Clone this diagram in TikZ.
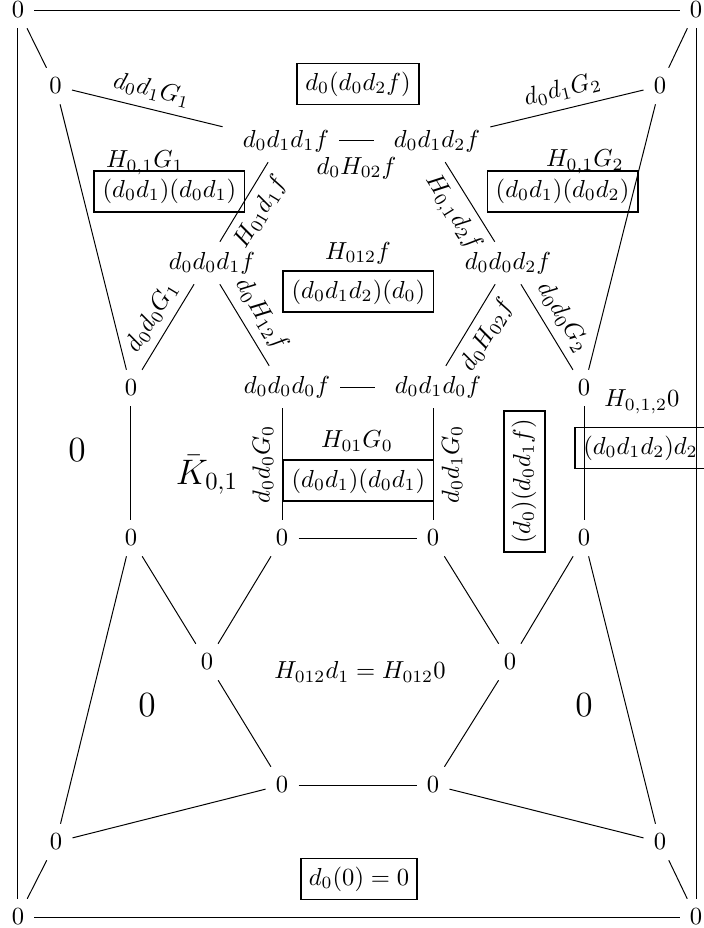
\documentclass[tikz,border=0pt]{standalone}
\begin{document}
\begin{tikzpicture}[zero/.style={inner sep=4pt}, cell/.style={draw, thick}, big/.style={font=\Large}]
\useasboundingbox (0,0) rectangle (10.043,-13.257);
% corners
\node[zero] (tl) at (0.257,-0.143) {$0$};
\node[zero] (tr) at (9.943,-0.143) {$0$};
\node[zero] (bl) at (0.257,-13.1) {$0$};
\node[zero] (br) at (9.943,-13.1) {$0$};
% outer ring of zeros
\node[zero] (lo1) at (0.793,-1.229) {$0$};
\node[zero] (ro1) at (9.429,-1.229) {$0$};
\node[zero] (lo2) at (1.871,-5.543) {$0$};
\node[zero] (ro2) at (8.343,-5.543) {$0$};
\node[zero] (lo3) at (1.871,-7.686) {$0$};
\node[zero] (ro3) at (8.343,-7.686) {$0$};
\node[zero] (lo5) at (0.8,-12.029) {$0$};
\node[zero] (ro5) at (9.429,-12.029) {$0$};
% hexagon
\node[zero] (a) at (4.014,-2.014) {\hspace{4pt}$d_0d_1d_1f$};
\node[zero] (b) at (6.171,-2.014) {\hspace{4pt}$d_0d_1d_2f$};
\node[zero] (c) at (2.957,-3.757) {\hspace{4pt}$d_0d_0d_1f$};
\node[zero] (e) at (7.257,-3.757) {$d_0d_0d_2f$};
\node[zero] (g) at (4.029,-5.529) {\hspace{4pt}$d_0d_0d_0f$};
\node[zero] (h) at (6.186,-5.529) {\hspace{4pt}$d_0d_1d_0f$};
% lower hexagon
\node[zero] (m1) at (4.029,-7.686) {$0$};
\node[zero] (m2) at (6.186,-7.686) {$0$};
\node[zero] (lo4) at (2.957,-9.457) {$0$};
\node[zero] (ro4) at (7.286,-9.457) {$0$};
\node[zero] (n1) at (4.029,-11.214) {$0$};
\node[zero] (n2) at (6.186,-11.214) {$0$};
% faces
\node[cell] (bx1) at (5.114,-1.2) {$d_0(d_0d_2f)$};
\node (t1) at (2.071,-2.329) {$H_{0,1}G_1$};
\node[cell] (bx2) at (2.421,-2.729) {$(d_0d_1)(d_0d_1)$};
\node (t2) at (8.357,-2.314) {$H_{0,1}G_2$};
\node[cell] (bx3) at (8.036,-2.729) {$(d_0d_1)(d_0d_2)$};
\node (t3) at (5.114,-3.614) {$H_{012}f$};
\node[cell] (bx4) at (5.121,-4.171) {$(d_0d_1d_2)(d_0)$};
\node[big] (z1) at (1.1,-6.429) {$0$};
\node[big] (kb) at (2.957,-6.786) {$\bar{K}_{0,1}$};
\node (t4) at (5.1,-6.3) {$H_{01}G_0$};
\node[cell] (bx5) at (5.121,-6.871) {$(d_0d_1)(d_0d_1)$};
\node[cell, rotate=90] (bx6) at (7.486,-6.879) {$(d_0)(d_0d_1f)$};
\node (t5) at (9.171,-5.743) {$H_{0,1,2}0$};
\node[cell] (bx7) at (9.15,-6.4) {$(d_0d_1d_2)d_2$};
\node (t6) at (5.143,-9.6) {$H_{012}d_1=H_{012}0$};
\node[big] (z2) at (2.1,-10.071) {$0$};
\node[big] (z3) at (8.343,-10.071) {$0$};
\node[cell] (bx8) at (5.129,-12.557) {$d_0(0)=0$};
% plain edges
\foreach \u/\v in {tl/tr, tl/bl, tr/br, bl/br, tl/lo1, tr/ro1, bl/lo5, br/ro5,
  lo1/lo2, ro1/ro2, lo2/lo3, ro2/ro3, g/h, m1/m2,
  lo3/lo4, m1/lo4, lo4/n1, m2/ro4, ro3/ro4, ro4/n2, n1/n2,
  lo3/lo5, n1/lo5, n2/ro5, ro3/ro5}
\draw (\u) -- (\v);
% labelled edges
\draw (lo1) -- node[sloped, above] {$d_0d_1G_1$} (a);
\draw (ro1) -- node[sloped, above] {$d_0d_1G_2$} (b);
\draw (a) -- node[below, yshift=-3pt] {$d_0H_{02}f$} (b);
\draw (a) -- node[sloped, below] {$H_{01}d_1f$} (c);
\draw (b) -- node[sloped, below] {$H_{0,1}d_2f$} (e);
\draw (c) -- node[sloped, above] {$d_0d_0G_1$} (lo2);
\draw (c) -- node[sloped, above] {$d_0H_{12}f$} (g);
\draw (e) -- node[sloped, below] {$d_0H_{02}f$} (h);
\draw (e) -- node[sloped, above] {$d_0d_0G_2$} (ro2);
\draw (m1) -- node[sloped, above] {$d_0d_0G_0$} (g);
\draw (m2) -- node[sloped, below] {$d_0d_1G_0$} (h);
\end{tikzpicture}
\end{document}
